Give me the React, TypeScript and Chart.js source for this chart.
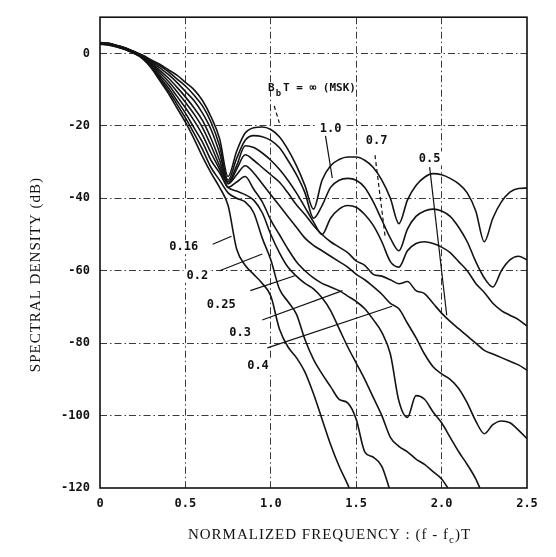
import React, { useEffect, useRef } from 'react';
import { Chart, registerables } from 'chart.js';

Chart.register(...registerables);

// Normalized frequency (f - fc)T
const FREQ = [0, 0.05, 0.1, 0.15, 0.2, 0.25, 0.3, 0.35, 0.4, 0.45, 0.5, 0.55, 0.6, 0.65, 0.7, 0.75, 0.8, 0.85, 0.9, 0.95, 1.0, 1.05, 1.1, 1.15, 1.2, 1.25, 1.3, 1.35, 1.4, 1.45, 1.5, 1.55, 1.6, 1.65, 1.7, 1.75, 1.8, 1.85, 1.9, 1.95, 2.0, 2.05, 2.1, 2.15, 2.2, 2.25, 2.3, 2.35, 2.4, 2.45, 2.5];

// Spectral density (dB) for each BbT
const BT_MSK = [3, 2.8, 2.2, 1.5, 0.5, -0.5, -1.8, -3, -4.5, -6, -8, -10, -13, -17.5, -23.5,
  -34, -27, -22, -20.5, -20.3, -21, -23, -26.5, -31, -36.5, -43,
  -35, -31, -29.3, -28.6, -28.6, -29.5, -31.5, -35, -40, -47, -40.5, -36.5, -34.2, -33.2, -33.5, -34.5, -36, -38.5, -43.5, -52, -45.5, -41, -38.3, -37.3, -37.2];
const BT_1_0 = [3, 2.8, 2.2, 1.5, 0.5, -0.6, -2, -3.4, -5, -7, -9, -11.5, -14.5, -19, -25.5,
  -35, -29, -24, -22.7, -23, -24, -26, -29.5, -33.5, -38.5, -45.5,
  -42, -37, -35, -34.5, -35, -37, -41, -46, -51, -54.5, -48.5, -45, -43.5, -43, -43.5, -45, -48, -52, -57.5, -62, -64.5, -60, -57, -56, -57];
const BT_0_7 = [2.9, 2.7, 2.1, 1.4, 0.4, -0.7, -2.3, -4, -5.8, -8, -10.5, -13, -16.5, -21, -27.5,
  -35.5, -31, -25.5, -26, -27.5, -29.5, -32, -35, -38.5, -42.5, -46.5,
  -50, -45.5, -43, -42, -42.5, -44.5, -47.5, -52, -57.5, -59, -54.5, -52.5, -52, -52.5, -53.5, -55, -57.5, -60, -63.5, -66, -69, -71, -72.3, -73.5, -75.3];
const BT_0_5 = [2.8, 2.6, 2.0, 1.3, 0.3, -0.8, -2.6, -4.7, -6.8, -9.3, -12, -15, -18.5, -23.5, -29.5,
  -36, -32, -28, -29.5, -31.5, -33.5, -35.5, -38.5, -41.8, -44.5, -47.5,
  -50, -52, -53.5, -55, -57.3, -58.5, -61, -61.5, -62.5, -63.6, -63, -65.5, -66.3, -69, -71.7, -74, -76, -78, -80, -82, -83, -84, -85, -86, -87.5];
const BT_0_4 = [2.8, 2.6, 2.0, 1.3, 0.3, -0.9, -2.9, -5.3, -7.7, -10.5, -13.5, -16.7, -20.5, -25.5, -31,
  -36, -33.5, -31, -33, -36, -39, -42, -45, -48, -51, -53,
  -54.5, -56, -57.5, -59, -61, -62.5, -64.4, -66.5, -69, -70.5, -74.5, -78.5, -83, -86.5, -88.5, -90, -92.5, -96.5, -101.5, -105, -102.5, -101.5, -102, -104, -106.4];
const BT_0_3 = [2.7, 2.5, 1.9, 1.2, 0.2, -1.0, -3.2, -6, -8.6, -11.8, -15, -18.5, -22.5, -27.5, -32,
  -37, -35.5, -34, -37.5, -41, -46, -50, -54, -57.5, -60, -62,
  -63.5, -64.5, -65.5, -67, -68.5, -70.5, -73.5, -77, -83, -96, -100.5, -94.5, -95.5, -99, -102, -106, -110, -113.5, -117.5, -123, null, null, null, null, null];
const BT_0_25 = [2.6, 2.4, 1.9, 1.1, 0.1, -1.2, -3.5, -6.6, -9.5, -13, -16.5, -20.5, -24.5, -29.5, -33,
  -37, -38, -39, -40.5, -44, -50, -55, -59, -61.5, -63.5, -65,
  -67.5, -71, -76, -81, -85.5, -90, -95, -100, -106, -108.5, -110, -112, -113.5, -115.5, -117.5, -121, null, null, null, null, null, null, null, null, null];
const BT_0_2 = [2.6, 2.4, 1.8, 1.1, 0.0, -1.3, -3.8, -7.1, -10.3, -14, -17.8, -22, -26.5, -31.5, -35,
  -38.5, -40, -41, -44, -51, -57, -65, -68.5, -72, -79, -84.5,
  -88.5, -92, -95.5, -96.5, -101, -110, -111.5, -114, -121, null, null, null, null, null, null, null, null, null, null, null, null, null, null, null, null];
const BT_0_16 = [2.5, 2.3, 1.8, 1.0, 0.0, -1.5, -4, -7.5, -11, -15, -19, -23.5, -28.5, -33, -37,
  -42, -54, -58.5, -61, -63.5, -67, -76, -81, -84, -88, -94,
  -101, -108, -114, -119, -125, null, null, null, null, null, null, null, null, null, null, null, null, null, null, null, null, null, null, null, null];

const SERIES = [
  { name: 'MSK', values: BT_MSK },
  { name: '1.0', values: BT_1_0 },
  { name: '0.7', values: BT_0_7 },
  { name: '0.5', values: BT_0_5 },
  { name: '0.4', values: BT_0_4 },
  { name: '0.3', values: BT_0_3 },
  { name: '0.25', values: BT_0_25 },
  { name: '0.2', values: BT_0_2 },
  { name: '0.16', values: BT_0_16 },
];

// Curve labels (anchored in data coordinates)
const CURVE_LABELS = [
  { text: '0.16', x: 0.49, y: -53.5 },
  { text: '0.2', x: 0.57, y: -61.4 },
  { text: '0.25', x: 0.71, y: -69.3 },
  { text: '0.3', x: 0.82, y: -77.2 },
  { text: '0.4', x: 0.925, y: -86.2 },
  { text: '1.0', x: 1.35, y: -20.8 },
  { text: '0.7', x: 1.62, y: -24.1 },
  { text: '0.5', x: 1.93, y: -29 },
];

// Leader lines from labels to curves (data coordinates)
const LEADERS = [
  { x1: 0.66, y1: -52.7, x2: 0.77, y2: -50.5, dashed: false },
  { x1: 0.70, y1: -60.0, x2: 0.95, y2: -55.4, dashed: false },
  { x1: 0.88, y1: -65.5, x2: 1.14, y2: -61.4, dashed: false },
  { x1: 0.95, y1: -73.6, x2: 1.42, y2: -65.5, dashed: false },
  { x1: 0.98, y1: -81.3, x2: 1.71, y2: -69.8, dashed: false },
  { x1: 1.32, y1: -22.7, x2: 1.36, y2: -34.4, dashed: false },
  { x1: 1.61, y1: -28.1, x2: 1.67, y2: -50.8, dashed: true },
  { x1: 1.93, y1: -31.4, x2: 2.03, y2: -72.3, dashed: false },
  { x1: 1.02, y1: -14.5, x2: 1.05, y2: -19.2, dashed: true },
];

const MSK_NOTE = { x: 0.984, y: -10.4 };

const X_MIN = 0;
const X_MAX = 2.5;
const Y_MIN = -120;
const Y_MAX = 10;

const MONO = '"DejaVu Sans Mono", monospace';
const SERIF = '"Liberation Serif", "Times New Roman", serif';

const framePlugin = {
  id: 'frame',
  beforeDatasetsDraw(chart: any) {
    const { ctx, chartArea: a } = chart;
    ctx.save();
    ctx.strokeStyle = '#111';
    ctx.lineWidth = 1.6;
    ctx.setLineDash([]);
    ctx.strokeRect(a.left, a.top, a.right - a.left, a.bottom - a.top);
    ctx.restore();
  },
};

const annotationPlugin = {
  id: 'annot',
  afterDatasetsDraw(chart: any) {
    const { ctx } = chart;
    const xs = chart.scales.x;
    const ys = chart.scales.y;
    ctx.save();
    ctx.strokeStyle = '#111';
    ctx.lineWidth = 1.2;
    for (const l of LEADERS) {
      ctx.beginPath();
      ctx.setLineDash(l.dashed ? [4, 3] : []);
      ctx.moveTo(xs.getPixelForValue(l.x1), ys.getPixelForValue(l.y1));
      ctx.lineTo(xs.getPixelForValue(l.x2), ys.getPixelForValue(l.y2));
      ctx.stroke();
    }
    ctx.setLineDash([]);
    ctx.font = `bold 12px ${MONO}`;
    ctx.textAlign = 'center';
    ctx.textBaseline = 'middle';
    for (const lb of CURVE_LABELS) {
      const px = xs.getPixelForValue(lb.x);
      const py = ys.getPixelForValue(lb.y);
      const w = ctx.measureText(lb.text).width;
      ctx.fillStyle = '#fff';
      ctx.fillRect(px - w / 2 - 3, py - 7, w + 6, 14);
      ctx.fillStyle = '#111';
      ctx.fillText(lb.text, px, py);
    }
    // BbT = ∞ (MSK)
    const nx = xs.getPixelForValue(MSK_NOTE.x);
    const ny = ys.getPixelForValue(MSK_NOTE.y);
    ctx.textAlign = 'left';
    ctx.textBaseline = 'alphabetic';
    ctx.font = `bold 11px ${MONO}`;
    ctx.fillText('B', nx, ny);
    const wB = ctx.measureText('B').width;
    ctx.font = `bold 9px ${MONO}`;
    ctx.fillText('b', nx + wB + 1, ny + 5);
    const wb = ctx.measureText('b').width;
    ctx.font = `bold 11px ${MONO}`;
    ctx.fillText('T = \u221E (MSK)', nx + wB + wb + 3, ny);
    ctx.restore();
  },
};

const titlePlugin = {
  id: 'titles',
  afterDraw(chart: any) {
    const { ctx, chartArea: a } = chart;
    ctx.save();
    ctx.fillStyle = '#111';
    try { (ctx as any).letterSpacing = '1px'; } catch (e) { /* ignore */ }
    // Y title
    ctx.font = `15px ${SERIF}`;
    ctx.textAlign = 'center';
    ctx.textBaseline = 'middle';
    ctx.translate(36, (a.top + a.bottom) / 2 + 22);
    ctx.rotate(-Math.PI / 2);
    ctx.fillText('SPECTRAL DENSITY (dB)', 0, 0);
    ctx.restore();

    // X title with subscript
    ctx.save();
    ctx.fillStyle = '#111';
    try { (ctx as any).letterSpacing = '1px'; } catch (e) { /* ignore */ }
    ctx.textBaseline = 'alphabetic';
    ctx.textAlign = 'left';
    const main = 'NORMALIZED FREQUENCY : (f - f';
    const sub = 'c';
    const tail = ')T';
    ctx.font = `15px ${SERIF}`;
    const w1 = ctx.measureText(main).width;
    const w3 = ctx.measureText(tail).width;
    ctx.font = `11px ${SERIF}`;
    const w2 = ctx.measureText(sub).width;
    const total = w1 + w2 + w3;
    const cx = (a.left + a.right) / 2 + 16;
    const base = 539;
    let x0 = cx - total / 2;
    ctx.font = `15px ${SERIF}`;
    ctx.fillText(main, x0, base);
    x0 += w1;
    ctx.font = `11px ${SERIF}`;
    ctx.fillText(sub, x0, base + 4);
    x0 += w2;
    ctx.font = `15px ${SERIF}`;
    ctx.fillText(tail, x0, base);
    ctx.restore();
  },
};

export default function App() {
  const ref = useRef<HTMLCanvasElement>(null);
  useEffect(() => {
    const canvas = ref.current;
    if (!canvas) return;
    const chart = new Chart(canvas, {
      type: 'line',
      data: {
        datasets: SERIES.map((s) => ({
          label: s.name,
          data: FREQ.map((f, i) => ({ x: f, y: s.values[i] })),
          borderColor: '#141414',
          borderWidth: 1.6,
          pointRadius: 0,
          fill: false,
          cubicInterpolationMode: 'monotone',
          spanGaps: false,
          clip: 0,
        })),
      },
      options: {
        responsive: false,
        animation: false,
        events: [],
        layout: { padding: { top: 11, right: 29, left: 0, bottom: 0 } },
        plugins: { legend: { display: false }, tooltip: { enabled: false } },
        scales: {
          x: {
            type: 'linear',
            min: X_MIN,
            max: X_MAX,
            afterFit: (s: any) => { s.height = 69; },
            ticks: {
              stepSize: 0.5,
              padding: 9,
              color: '#111',
              maxRotation: 0,
              autoSkip: false,
              font: { family: MONO, size: 12, weight: 'bold' },
              callback: (v: any) => (Number(v) === 0 ? '0' : Number(v).toFixed(1)),
            },
            grid: {
              drawTicks: false,
              lineWidth: 1,
              color: (c: any) => (c.tick && (c.tick.value <= X_MIN || c.tick.value >= X_MAX) ? 'rgba(0,0,0,0)' : '#3a3a3a'),
            },
            border: { display: false, dash: [7, 3, 1.5, 3] },
          },
          y: {
            type: 'linear',
            min: Y_MIN,
            max: Y_MAX,
            afterFit: (s: any) => { s.width = 100; },
            afterBuildTicks: (s: any) => { s.ticks = s.ticks.filter((t: any) => t.value % 20 === 0); },
            ticks: {
              stepSize: 20,
              padding: 10,
              color: '#111',
              font: { family: MONO, size: 12, weight: 'bold' },
              callback: (v: any) => String(v),
            },
            grid: {
              drawTicks: false,
              lineWidth: 1,
              color: (c: any) => (c.tick && (c.tick.value <= Y_MIN || c.tick.value >= Y_MAX) ? 'rgba(0,0,0,0)' : '#3a3a3a'),
            },
            border: { display: false, dash: [7, 3, 1.5, 3] },
          },
        },
      } as any,
      plugins: [framePlugin, annotationPlugin, titlePlugin],
    });
    return () => chart.destroy();
  }, []);
  return (
    <div style={{ position: 'fixed', left: 0, top: 0, width: 556, height: 557, background: '#fff' }}>
      <canvas ref={ref} width={556} height={557} style={{ display: 'block' }} />
    </div>
  );
}
